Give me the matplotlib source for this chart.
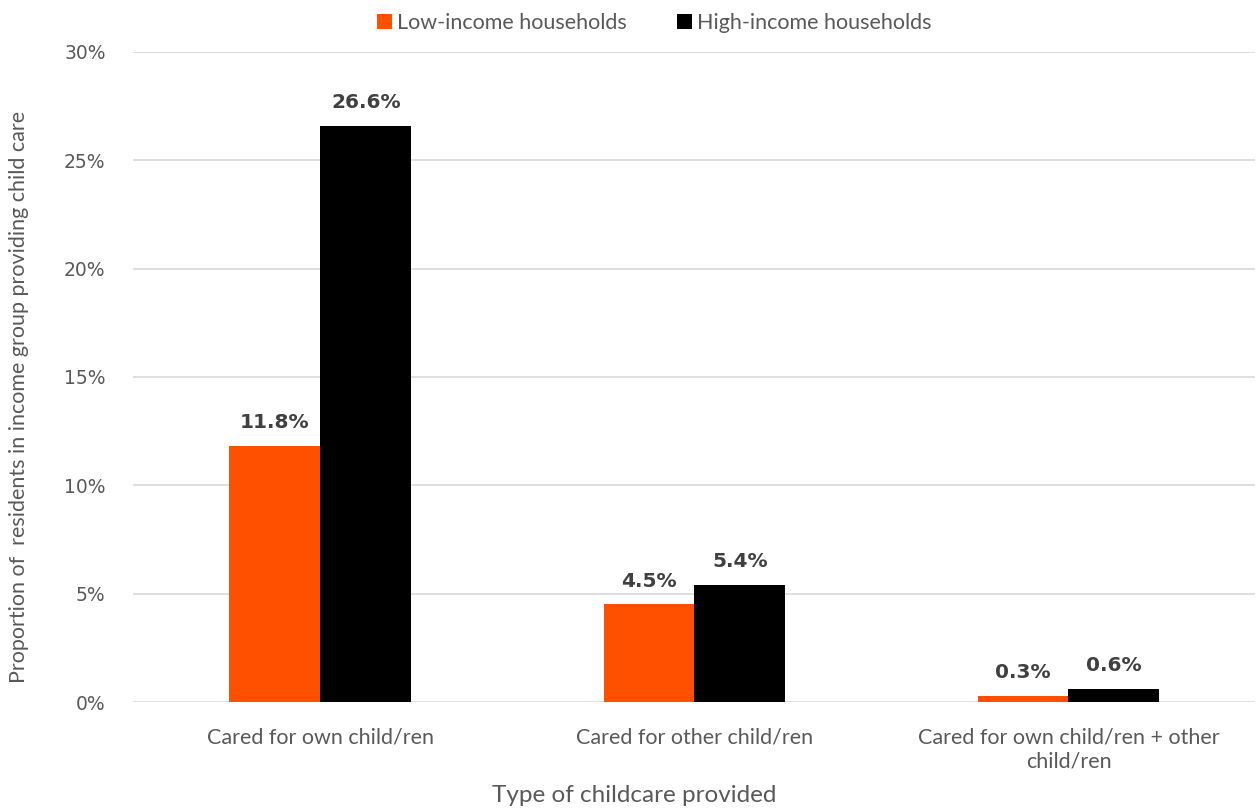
import numpy as np
import matplotlib.pyplot as plt
from matplotlib.ticker import PercentFormatter

categories = ['Cared for own child/ren', 'Cared for other child/ren',
              'Cared for own child/ren + other\nchild/ren']
low_income = [11.8, 4.5, 0.3]
high_income = [26.6, 5.4, 0.6]
series_names = ['Low-income households', 'High-income households']

orange = '#FF5000'
txt = '#595959'

fig = plt.figure(figsize=(12.58, 8.11), dpi=100)
ax = fig.add_axes([0.106, 0.1344, 0.892, 0.8016])

x = np.arange(len(categories))
w = 0.243
b1 = ax.bar(x - w / 2, low_income, w, color=orange, label=series_names[0], zorder=3)
b2 = ax.bar(x + w / 2, high_income, w, color='black', label=series_names[1], zorder=3)

for bars, vals in [(b1, low_income), (b2, high_income)]:
    for bar, v in zip(bars, vals):
        ax.annotate(f'{v:.1f}%', (bar.get_x() + bar.get_width() / 2, v),
                    xytext=(0, 10), textcoords='offset points', ha='center', va='bottom',
                    fontsize=14.5, fontweight='bold', color='#404040', family='DejaVu Sans')

ax.set_xlim(-0.5, 2.5)
ax.set_ylim(0, 30)
ax.set_yticks(np.arange(0, 31, 5))
ax.yaxis.set_major_formatter(PercentFormatter(decimals=0))
ax.set_xticks(x)
ax.set_xticklabels(categories, fontsize=15.5, color=txt, family='Lato', linespacing=1.25)
ax.tick_params(axis='x', length=0, pad=18)
ax.tick_params(axis='y', length=0, pad=20, labelsize=13.5, labelcolor=txt)
ax.grid(axis='y', color='#D9D9D9', linewidth=1.2, zorder=0)
for s in ax.spines.values():
    s.set_visible(False)

ax.set_xlabel('Type of childcare provided', fontsize=17.5, color=txt, family='Lato')
ax.xaxis.set_label_coords(0.446, -0.128)
ax.set_ylabel('Proportion of  residents in income group providing child care', fontsize=15.5,
              color=txt, family='Lato')
ax.yaxis.set_label_coords(-0.093, 0.47)

fig.legend(loc='upper center', bbox_to_anchor=(0.52, 1.008), ncol=2, frameon=False,
           handlelength=0.7, handleheight=0.7, handletextpad=0.25, columnspacing=2.3,
           prop={'family': 'Lato', 'size': 15.5}, labelcolor=txt)

fig.savefig('out.png', dpi=100)
